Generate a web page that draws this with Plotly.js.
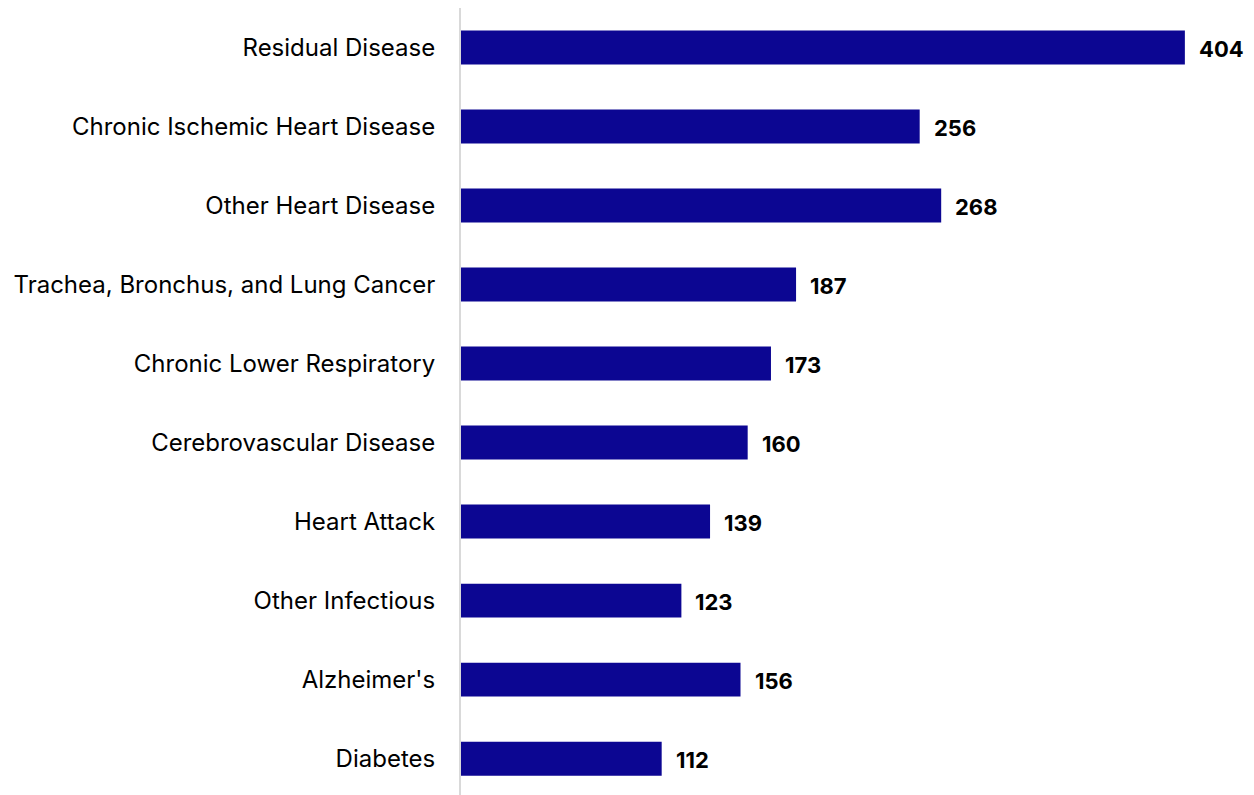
<!DOCTYPE html>
<html>
<head>
<meta charset="utf-8">
<script src="https://cdn.plot.ly/plotly-3.0.1.min.js"></script>
<style>html,body{margin:0;padding:0;background:#fff;}#chart{width:1254px;height:795px;}</style>
</head>
<body>
<div id="chart"></div>
<script>
const categories = ["Residual Disease","Chronic Ischemic Heart Disease","Other Heart Disease","Trachea, Bronchus, and Lung Cancer","Chronic Lower Respiratory","Cerebrovascular Disease","Heart Attack","Other Infectious","Alzheimer's","Diabetes"];
const values = [404,256,268,187,173,160,139,123,156,112];

const barColor = '#0c0692';
const fontFam = 'Inter, "Open Sans", sans-serif';

const trace = {
  type: 'bar',
  orientation: 'h',
  y: categories,
  x: values,
  marker: {color: barColor},
  width: 0.43,
  hoverinfo: 'none'
};

const annotations = categories.map((c, i) => ({
  x: values[i], y: c, xref: 'x', yref: 'y',
  text: String(values[i]), showarrow: false,
  xanchor: 'left', yanchor: 'middle', xshift: 12, yshift: -1,
  font: {family: fontFam, size: 22, color: '#000', weight: 'bold'}
}));

const layout = {
  width: 1254, height: 795,
  margin: {l: 461, r: 10, t: 8, b: 0},
  paper_bgcolor: '#fff', plot_bgcolor: '#fff',
  showlegend: false,
  bargap: 0.57,
  xaxis: {range: [0, 437], showgrid: false, zeroline: false, showticklabels: false, ticks: '', showline: false},
  yaxis: {
    type: 'category',
    categoryorder: 'array', categoryarray: categories,
    range: [9.46, -0.5],
    showgrid: false, zeroline: false, ticks: '',
    showline: true, linecolor: '#d9d9d9', linewidth: 2,
    ticklabelstandoff: 19,
    tickfont: {family: fontFam, size: 24, color: '#000'}
  },
  annotations: annotations
};

Plotly.newPlot('chart', [trace], layout, {staticPlot: true, displayModeBar: false});
</script>
</body>
</html>
